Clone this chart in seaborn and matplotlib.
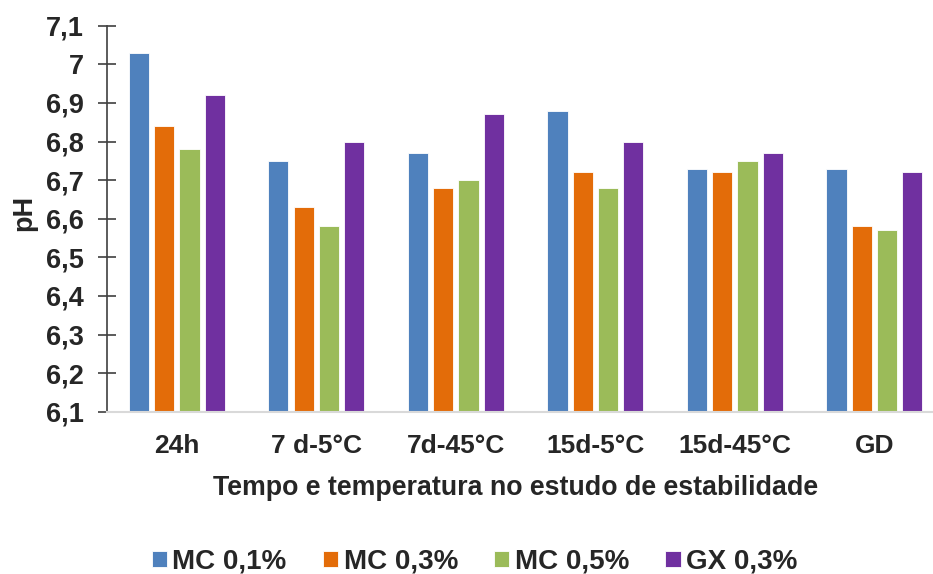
import matplotlib
matplotlib.use("Agg")
import matplotlib.pyplot as plt
import seaborn as sns
import pandas as pd

categories = ["24h", "7 d-5°C", "7d-45°C", "15d-5°C", "15d-45°C", "GD"]
series_names = ["MC 0,1%", "MC 0,3%", "MC 0,5%", "GX 0,3%"]
mc01 = [7.03, 6.75, 6.77, 6.88, 6.73, 6.73]
mc03 = [6.84, 6.63, 6.68, 6.72, 6.72, 6.58]
mc05 = [6.78, 6.58, 6.70, 6.68, 6.75, 6.57]
gx03 = [6.92, 6.80, 6.87, 6.80, 6.77, 6.72]
colors = ["#4F81BD", "#E36C09", "#9BBB59", "#7030A0"]
y_ticks = [6.1, 6.2, 6.3, 6.4, 6.5, 6.6, 6.7, 6.8, 6.9, 7.0, 7.1]
y_tick_labels = ["6,1", "6,2", "6,3", "6,4", "6,5", "6,6", "6,7", "6,8", "6,9", "7", "7,1"]

rows = []
for name, vals in zip(series_names, [mc01, mc03, mc05, gx03]):
    for c, v in zip(categories, vals):
        rows.append({"cat": c, "serie": name, "ph": v})
df = pd.DataFrame(rows)

sns.set_theme(style="white")
plt.rcParams["font.family"] = ["Liberation Sans", "DejaVu Sans"]
plt.rcParams["font.weight"] = "bold"

fig = plt.figure(figsize=(9.33, 5.74), dpi=100)
ax = fig.add_axes([107 / 933, 1 - 411.7 / 574, 826 / 933, (411.7 - 25.7) / 574])

sns.barplot(data=df, x="cat", y="ph", hue="serie", order=categories,
            hue_order=series_names, palette=colors, saturation=1,
            width=0.725, gap=0.2, edgecolor="white", linewidth=0.6,
            ax=ax, legend=True)

ax.set_ylim(6.1, 7.1)
ax.set_xlim(-0.5, 5.42)
ax.set_yticks(y_ticks)
ax.set_yticklabels(y_tick_labels, fontsize=19.5, fontweight="bold")
ax.tick_params(axis="y", direction="inout", length=13, width=1.2, color="#404040",
               pad=10, left=True)
ax.tick_params(axis="x", length=0, pad=16)
for lbl in ax.get_xticklabels():
    lbl.set_fontsize(19)
    lbl.set_fontweight("bold")

for s in ["top", "right"]:
    ax.spines[s].set_visible(False)
ax.spines["left"].set_color("#404040")
ax.spines["left"].set_linewidth(1.2)
ax.spines["bottom"].set_color("#D9D9D9")
ax.spines["bottom"].set_linewidth(1.5)

ax.set_xlabel("Tempo e temperatura no estudo de estabilidade", fontsize=19.3,
              fontweight="bold", va="center")
ax.xaxis.set_label_coords(0.495, -0.198)
ax.set_ylabel("pH", fontsize=19.5, fontweight="bold", va="center")
ax.yaxis.set_label_coords(-0.1005, 0.515)

handles, labels = ax.get_legend_handles_labels()
ax.get_legend().remove()
fig.legend(handles, labels, loc="center", bbox_to_anchor=(0.5086, 0.021), ncol=4,
           frameon=False, prop={"size": 20, "weight": "bold"},
           handlelength=0.55, handleheight=0.55, handletextpad=0.2,
           columnspacing=1.3)

fig.savefig("out.png", dpi=100)
